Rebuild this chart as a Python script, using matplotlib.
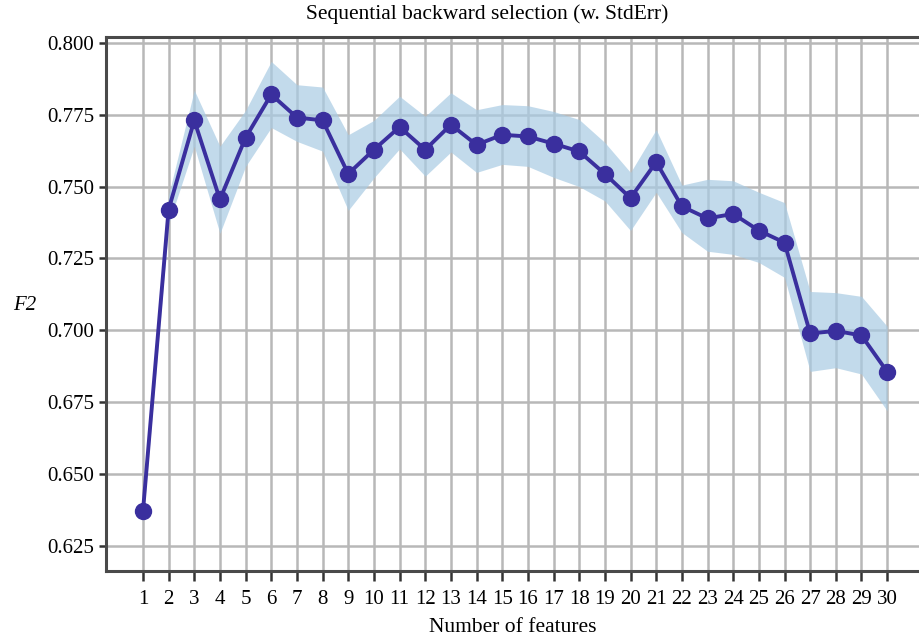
import matplotlib
matplotlib.use("Agg")
import matplotlib.pyplot as plt
import numpy as np

# Sequential backward selection sonuclari
n_features = list(range(1, 31))
f2_mean = [0.637, 0.742, 0.773, 0.7455, 0.767, 0.782, 0.774, 0.773, 0.7544, 0.7628,
           0.7707, 0.7628, 0.7715, 0.7645, 0.768, 0.7674, 0.7649, 0.7622, 0.7544, 0.746,
           0.7585, 0.7431, 0.7389, 0.7405, 0.7347, 0.7305, 0.6989, 0.6998, 0.6982, 0.6856]
f2_upper = [0.641, 0.747, 0.7835, 0.764, 0.7765, 0.7935, 0.7854, 0.7846, 0.768, 0.773,
            0.7814, 0.7744, 0.7826, 0.7767, 0.7785, 0.7781, 0.7761, 0.7733, 0.7653, 0.7549,
            0.7698, 0.7505, 0.7525, 0.752, 0.748, 0.7444, 0.7135, 0.7131, 0.7118, 0.7014]
f2_lower = [0.633, 0.737, 0.764, 0.7337, 0.757, 0.7705, 0.7657, 0.7623, 0.7417, 0.753,
            0.7631, 0.7536, 0.762, 0.7549, 0.7577, 0.757, 0.7532, 0.750, 0.745, 0.7347,
            0.748, 0.734, 0.7275, 0.7264, 0.7236, 0.7184, 0.6857, 0.687, 0.6848, 0.672]
y_ticks = [0.625, 0.650, 0.675, 0.700, 0.725, 0.750, 0.775, 0.800]

plt.rcParams['font.family'] = ['Liberation Serif', 'DejaVu Serif']

fig = plt.figure(figsize=(9.2, 6.41), dpi=100)
ax = fig.add_axes([0.1152, 0.1092, 0.8848, 0.8331])

ax.fill_between(n_features, f2_lower, f2_upper, color="#a9cbe3", alpha=0.7, linewidth=0, zorder=2)
ax.plot(n_features, f2_mean, color="#3a2f9e", linewidth=2.8, marker="o", markersize=11.5, zorder=3)

# sag kenar resimde kesik, eksen 31'in otesine uzaniyor
ax.set_xlim(-0.44, 31.28)
ax.set_ylim(0.6163, 0.802)
ax.set_xticks(n_features)
ax.set_yticks(y_ticks)
ax.set_yticklabels([f"{v:.3f}" for v in y_ticks])

ax.grid(True, color="#b8b8b8", linewidth=1.8, zorder=1)
ax.set_axisbelow(True)

for s in ["left", "bottom", "top"]:
    ax.spines[s].set_color("#4a4a4a")
    ax.spines[s].set_linewidth(2.2)
ax.spines["right"].set_visible(False)

ax.tick_params(axis="both", labelsize=15, color="#333333", width=1.8)
ax.tick_params(axis="x", length=7, pad=7)
ax.tick_params(axis="y", length=5)

ax.set_xlabel("Number of features", fontsize=15.5, labelpad=6)
ax.set_ylabel("F2", fontsize=15, style="italic", rotation=0)
ax.yaxis.set_label_coords(-0.1, 0.48)

fig.text(0.53, 0.978, "Sequential backward selection (w. StdErr)", fontsize=15.5,
         ha="center", va="center")

plt.savefig("out.png", dpi=100)
plt.close()
